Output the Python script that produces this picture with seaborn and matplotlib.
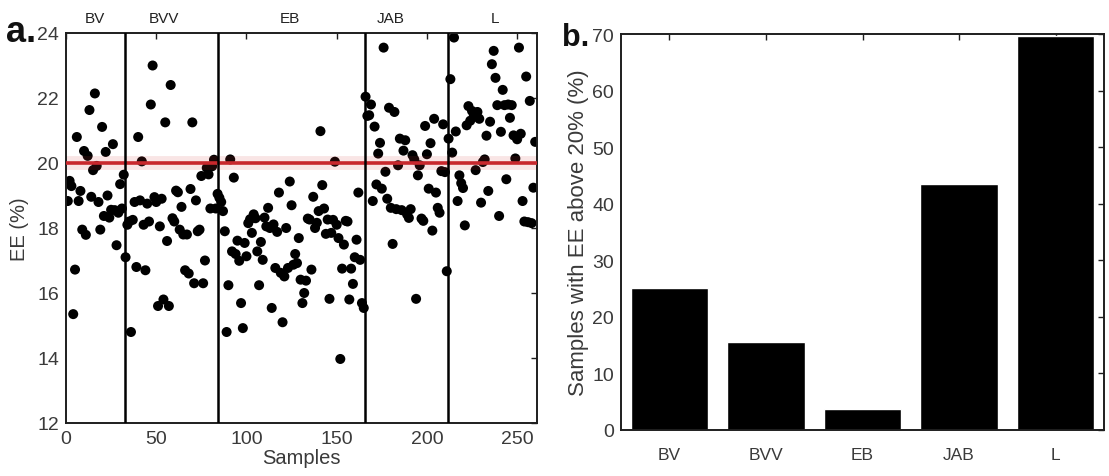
import numpy as np
import pandas as pd
import matplotlib
matplotlib.use("Agg")
import matplotlib.pyplot as plt
import seaborn as sns
from matplotlib.transforms import blended_transform_factory

# Sample groups and their EE values (%), in sample order
groups = ["BV", "BVV", "EB", "JAB", "L"]

ee_bv = [18.83, 19.45, 19.29, 15.35, 16.72, 20.8, 18.83, 19.14, 17.95, 20.37,
         17.79, 20.22, 21.63, 18.96, 19.78, 22.14, 19.91, 18.8, 17.95, 21.11,
         18.37, 20.34, 19.0, 18.32, 18.56, 20.58, 18.55, 17.47, 18.47, 19.35,
         18.6, 19.64]

ee_bvv = [17.1, 18.1, 18.2, 14.8, 18.25, 18.8, 16.8, 20.8, 18.85, 20.05,
          18.1, 16.7, 18.75, 18.2, 21.8, 23.0, 18.95, 18.8, 15.6, 18.05,
          18.9, 15.8, 21.25, 17.6, 15.6, 22.4, 18.3, 18.2, 19.15, 19.1,
          17.95, 18.65, 17.8, 16.7, 17.8, 16.6, 19.2, 21.25, 16.3, 18.85,
          17.9, 17.95, 19.6, 16.3, 17.0, 19.85, 19.65, 18.6, 19.9, 20.1,
          18.6, 19.05]

ee_eb = [18.93, 18.8, 18.52, 17.9, 14.8, 16.24, 20.11, 17.28, 19.55, 17.2,
         17.61, 16.99, 15.69, 14.92, 17.54, 17.13, 18.15, 18.27, 17.85, 18.42,
         18.3, 17.28, 16.24, 17.57, 17.02, 18.32, 18.05, 18.62, 18.0, 15.54,
         18.11, 16.77, 17.88, 19.09, 16.62, 15.1, 16.51, 18.0, 16.77, 19.43,
         18.7, 16.87, 17.2, 16.92, 17.69, 16.41, 15.69, 16.0, 16.38, 18.29,
         18.26, 16.72, 18.96, 18.0, 18.16, 18.52, 20.98, 19.32, 18.6, 17.82,
         18.26, 15.82, 17.85, 18.25, 20.04, 18.1, 17.69, 13.97, 16.75, 17.49,
         18.22, 18.2, 15.8, 16.75, 16.28, 17.1, 17.64, 19.09, 17.02, 15.69,
         15.54]

ee_jab = [22.04, 21.45, 21.47, 21.8, 18.83, 21.12, 19.34, 20.29, 20.62, 19.21,
          23.55, 19.73, 18.9, 21.7, 18.62, 17.51, 21.57, 18.58, 19.93, 20.75,
          18.55, 20.38, 20.7, 18.42, 18.31, 18.58, 20.24, 20.11, 15.82, 19.62,
          19.93, 18.29, 18.22, 21.14, 20.27, 19.21, 20.61, 17.92, 21.36, 19.09,
          18.62, 18.47, 19.75, 21.19, 19.72, 16.67]

ee_l = [20.75, 22.58, 20.32, 23.86, 20.97, 18.83, 19.62, 19.38, 19.23, 18.08,
        21.16, 21.75, 21.3, 21.6, 21.45, 19.78, 21.57, 21.36, 18.78, 20.03,
        20.11, 20.84, 19.14, 21.27, 23.04, 23.45, 22.62, 21.78, 18.37, 20.96,
        22.25, 21.78, 19.5, 21.8, 21.39, 21.78, 20.85, 20.14, 20.73, 23.55,
        20.9, 18.83, 18.2, 22.66, 18.18, 21.91, 18.15, 19.24, 20.65]

# Share of samples per group with EE above the threshold (%)
pct_above = [25.1, 15.5, 3.7, 43.5, 69.6]

threshold = 20
group_label_x = [16, 54, 124, 180, 238]

group_values = [ee_bv, ee_bvv, ee_eb, ee_jab, ee_l]
df = pd.DataFrame({
    "group": np.repeat(groups, [len(v) for v in group_values]),
    "ee": np.concatenate(group_values),
})
df["sample"] = np.arange(1, len(df) + 1)
boundaries = np.cumsum([len(v) for v in group_values])[:-1] + 0.5

sns.set_theme(style="white")
plt.rcParams["font.family"] = ["Liberation Sans", "DejaVu Sans"]

W, H = 1109, 477
fig = plt.figure(figsize=(W / 100, H / 100), dpi=100)
ax1 = fig.add_axes([66 / W, 1 - 424 / H, (537 - 66) / W, (424 - 34) / H])
ax2 = fig.add_axes([621 / W, 1 - 431 / H, (1104 - 621) / W, (431 - 35) / H])

text_gray = "#3a3a3a"
spine_col = "#1e1e1e"

# ---- panel a: EE per sample ----
sns.scatterplot(data=df, x="sample", y="ee", color="black", s=52,
                edgecolor="none", legend=False, ax=ax1, zorder=2)
ax1.axhline(threshold, color="#d23a3a", lw=10, alpha=0.13, zorder=2.5)
ax1.axhline(threshold, color="#c8282d", lw=2.6, zorder=3)
for b in boundaries:
    ax1.axvline(b, color="black", lw=1.8, zorder=4)

ax1.set_xlim(0, 261)
ax1.set_ylim(12, 24)
ax1.set_xticks(np.arange(0, 251, 50))
ax1.set_yticks(np.arange(12, 25, 2))
ax1.set_xlabel("Samples", fontsize=14.5, color=text_gray, labelpad=1)
ax1.set_ylabel("EE (%)", fontsize=14.5, color=text_gray, labelpad=6)

trans = blended_transform_factory(ax1.transData, ax1.transAxes)
for name, xpos in zip(groups, group_label_x):
    ax1.text(xpos, 1.02, name, transform=trans, ha="center", va="bottom",
             fontsize=11, color="#222222")

# ---- panel b: share above threshold ----
sns.barplot(x=groups, y=pct_above, color="black", saturation=1, width=0.8,
            ax=ax2, zorder=2)
ax2.set_xlim(-0.5, 4.5)
ax2.set_ylim(0, 70)
ax2.set_yticks(np.arange(0, 71, 10))
ax2.set_ylabel("Samples with EE above 20% (%)", fontsize=16, color=text_gray,
               labelpad=2)
ax2.set_xlabel("")

for ax in (ax1, ax2):
    ax.tick_params(direction="in", top=True, right=True, length=4, width=1,
                   color=spine_col, labelsize=14, labelcolor=text_gray, pad=5)
    for s in ax.spines.values():
        s.set_color(spine_col)
        s.set_linewidth(1.4)
        s.set_visible(True)
    ax.grid(False)

ax2.tick_params(axis="x", labelsize=12.5, pad=12)

fig.text(6 / W, 1 - 32 / H, "a.", fontsize=26, fontweight="bold",
         va="center", ha="left", color="#111111")
fig.text(562 / W, 1 - 38 / H, "b.", fontsize=22, fontweight="bold",
         va="center", ha="left", color="#111111")

fig.savefig("out.png", dpi=100)
